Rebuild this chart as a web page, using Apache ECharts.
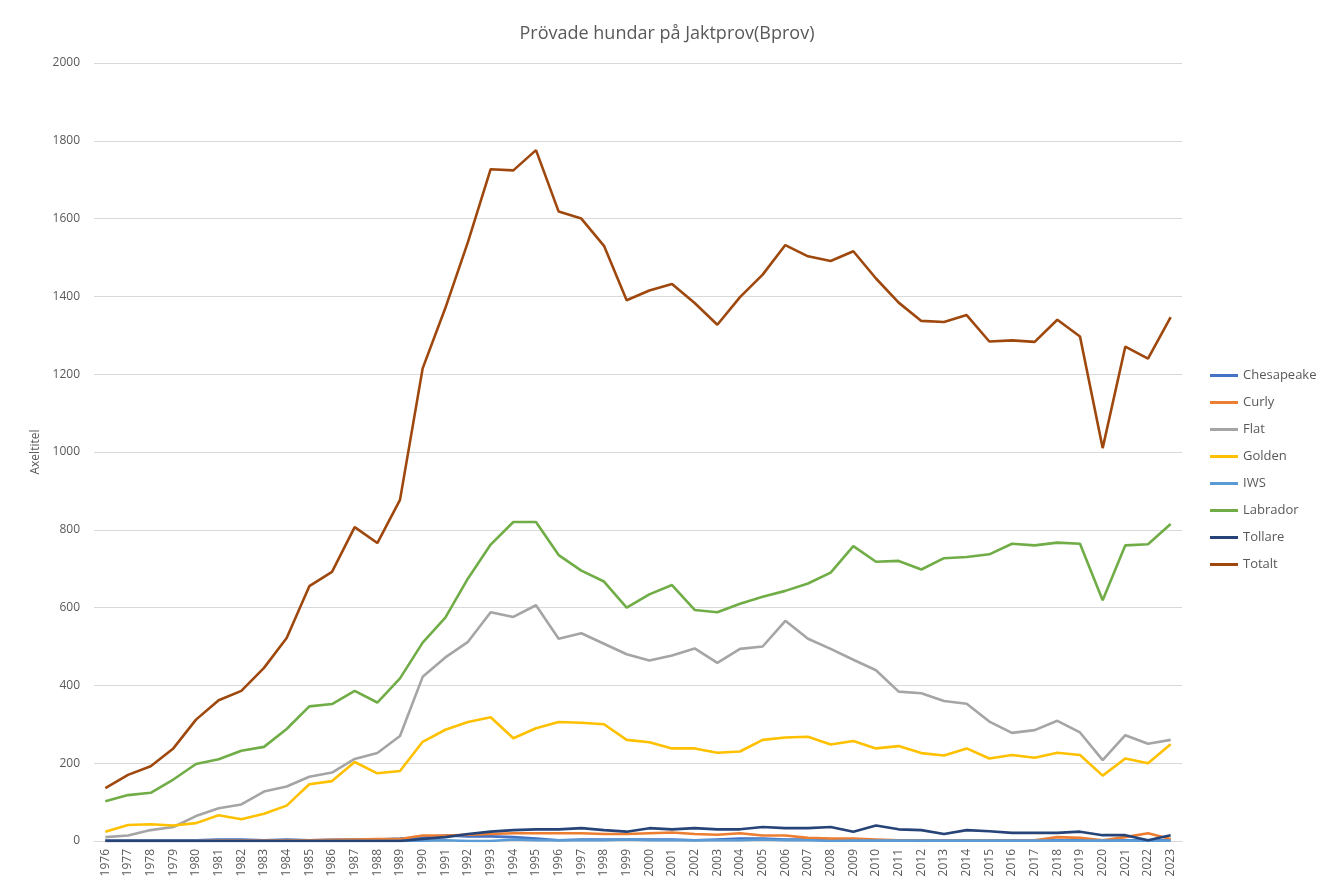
<!DOCTYPE html>
<html>
<head>
<meta charset="utf-8">
<script src="https://cdn.jsdelivr.net/npm/echarts@6/dist/echarts.min.js"></script>
<style>
  html, body { margin: 0; padding: 0; background: #fff; }
  #chart { width: 1334px; height: 888px; }
</style>
</head>
<body>
<div id="chart"></div>
<script>
// år
var years = [];
for (var y = 1976; y <= 2023; y++) years.push(String(y));

// antal prövade hundar per ras
var chesapeake = [2,2,2,2,2,4,4,2,4,2,3,4,4,6,9,14,12,12,10,6,2,4,4,4,4,4,2,4,6,6,4,4,4,2,2,2,0,2,2,2,2,2,2,2,0,2,2,2];
var curly = [0,0,0,0,0,1,1,1,2,2,3,4,5,5,14,14,16,18,20,20,20,20,18,18,20,22,18,16,20,14,14,8,6,6,4,2,2,2,2,2,2,2,10,8,2,10,20,5];
var flat = [10,14,28,36,64,84,94,127,140,165,176,211,226,270,422,472,512,588,576,606,520,534,507,480,464,477,495,458,494,500,566,520,494,466,439,384,380,360,353,307,278,285,309,279,208,272,250,260];
var golden = [24,41,43,40,46,66,56,70,91,146,154,203,174,180,255,286,306,318,264,290,306,304,300,260,254,238,238,227,230,260,266,268,248,257,238,244,226,220,238,212,221,214,227,221,168,212,200,249];
var iws = [0,0,0,0,0,0,0,0,0,0,0,0,0,0,1,2,0,0,4,2,2,2,2,4,2,2,2,2,2,4,2,2,0,1,1,1,1,1,1,1,1,1,1,1,1,1,1,1];
var labrador = [102,118,124,158,198,210,232,242,288,346,352,386,356,418,510,574,675,762,820,820,735,695,667,600,634,658,594,588,610,628,643,662,690,758,718,720,698,727,730,737,764,760,767,764,619,760,763,815];
var tollare = [0,0,0,0,0,0,0,0,0,0,0,0,0,0,5,10,18,24,28,30,30,33,28,24,33,30,33,30,30,36,33,33,36,24,40,30,28,18,28,25,21,21,21,24,15,15,2,15];
var totalt = [136,170,192,238,312,362,386,445,522,655,692,807,766,877,1215,1370,1540,1727,1724,1776,1618,1600,1530,1390,1415,1432,1383,1327,1398,1456,1532,1503,1491,1516,1446,1384,1337,1334,1352,1284,1287,1283,1340,1297,1010,1271,1240,1347];

var names = ['Chesapeake', 'Curly', 'Flat', 'Golden', 'IWS', 'Labrador', 'Tollare', 'Totalt'];
var colors = ['#4472C4', '#ED7D31', '#A5A5A5', '#FFC000', '#5B9BD5', '#70AD47', '#264478', '#9E480E'];
var values = [chesapeake, curly, flat, golden, iws, labrador, tollare, totalt];

var textColor = '#595959';
var font = 'Open Sans, Liberation Sans, sans-serif';

var series = names.map(function (n, i) {
	return {
		name: n,
		type: 'line',
		data: values[i],
		symbol: 'none',
		lineStyle: { width: 2.6, color: colors[i] },
		itemStyle: { color: colors[i] }
	};
});

var myChart = echarts.init(document.getElementById('chart'));
myChart.setOption({
	animation: false,
	color: colors,
	title: {
		text: 'Prövade hundar på Jaktprov(Bprov)',
		left: 'center',
		top: 20,
		textStyle: { color: textColor, fontSize: 18, fontWeight: 'normal', fontFamily: font }
	},
	legend: {
		orient: 'vertical',
		left: 1205,
		top: 364,
		itemWidth: 28,
		itemHeight: 3,
		itemGap: 14,
		icon: 'rect',
		textStyle: { color: textColor, fontSize: 13, fontFamily: font },
		data: names
	},
	grid: { left: 94, right: 152, top: 63, bottom: 47, containLabel: false },
	xAxis: {
		type: 'category',
		data: years,
		boundaryGap: true,
		axisLine: { lineStyle: { color: '#D9D9D9', width: 1 } },
		axisTick: { show: false },
		axisLabel: { rotate: 90, interval: 0, color: textColor, fontSize: 12, fontFamily: font, margin: 8 }
	},
	yAxis: {
		type: 'value',
		min: 0,
		max: 2000,
		interval: 200,
		name: 'Axeltitel',
		nameLocation: 'middle',
		nameGap: 50,
		nameRotate: 90,
		nameTextStyle: { color: textColor, fontSize: 12, fontFamily: font },
		axisLine: { show: false },
		axisTick: { show: false },
		axisLabel: {
			color: textColor, fontSize: 12, fontFamily: font, margin: 14,
			formatter: function (v) { return String(v); }
		},
		splitLine: { lineStyle: { color: '#D9D9D9', width: 1 } }
	},
	series: series
});
</script>
</body>
</html>
